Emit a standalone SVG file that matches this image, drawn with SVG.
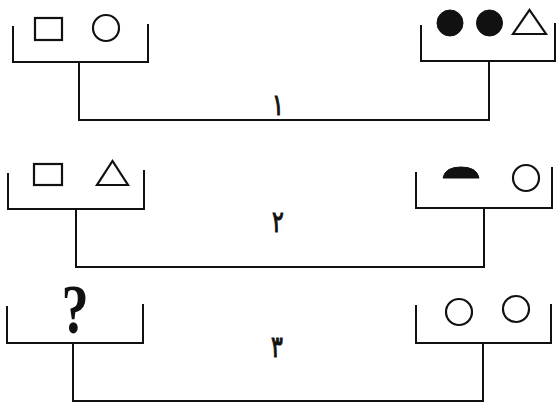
<svg xmlns="http://www.w3.org/2000/svg" width="557" height="402" viewBox="0 0 557 402">
<style>
.ln{fill:none;stroke:#111;stroke-width:2}
.sh{fill:none;stroke:#111;stroke-width:2.2}
.fl{fill:#111;stroke:#111;stroke-width:1}
.num{font-family:"DejaVu Sans","Noto Sans",sans-serif;font-size:22px;fill:#111;stroke:#111;stroke-width:0.8;text-anchor:middle}
.q{font-family:"Liberation Serif",serif;font-weight:bold;font-size:64px;fill:#111;text-anchor:middle}
</style>
<rect width="557" height="402" fill="#fff"/>
<g id="node-1L">
<path class="ln" d="M13,26 V62 H148 V24"/>
<rect class="sh" x="35" y="18" width="27" height="22"/>
<circle class="sh" cx="106" cy="28" r="13"/>
</g>
<g id="node-1R">
<path class="ln" d="M421,25 V61 H555 V23"/>
<circle class="fl" cx="450" cy="23" r="13"/>
<circle class="fl" cx="489.5" cy="23" r="13"/>
<polygon class="sh" points="513,34 546,34 529.5,10"/>
</g>
<g id="node-2L">
<path class="ln" d="M8,173 V209 H144 V170"/>
<rect class="sh" x="34" y="164" width="28" height="21"/>
<polygon class="sh" points="97,185 128,185 112.5,161"/>
</g>
<g id="node-2R">
<path class="ln" d="M416,172 V208 H552 V167"/>
<path class="fl" d="M443,178 Q445,167 461,167 Q477,167 479,178 Z"/>
<circle class="sh" cx="526" cy="178" r="13"/>
</g>
<g id="node-3L">
<path class="ln" d="M7,306 V343 H143 V304"/>
<text class="q" x="75" y="333" transform="translate(75 333) scale(0.85 1.08) translate(-75 -333)">?</text>
</g>
<g id="node-3R">
<path class="ln" d="M416,305 V343 H551 V304"/>
<circle class="sh" cx="459" cy="312" r="13"/>
<circle class="sh" cx="516" cy="309" r="13"/>
</g>
<g id="connectors">
<path class="ln" d="M79,62 V120 H489 V61"/>
<path class="ln" d="M76,209 V267 H484 V208"/>
<path class="ln" d="M73,343 V401 H483 V343"/>
</g>
<g id="labels">
<text class="num" x="278" y="115" transform="translate(278 115) scale(1 1.35) translate(-278 -115)">١</text>
<text class="num" x="278" y="232" transform="translate(278 232) scale(1 1.35) translate(-278 -232)">٢</text>
<text class="num" x="277" y="357" transform="translate(277 357) scale(1 1.35) translate(-277 -357)">٣</text>
</g>
</svg>
